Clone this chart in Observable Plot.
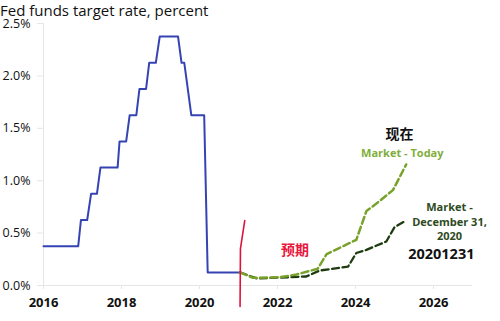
<!DOCTYPE html>
<html><head><meta charset="utf-8">
<script src="https://cdn.jsdelivr.net/npm/d3@7"></script>
<script src="https://cdn.jsdelivr.net/npm/@observablehq/plot@0.6"></script>
<style>
body{margin:0;background:#fff;}
#wrap{position:relative;width:500px;height:321px;overflow:hidden;}
#title{position:absolute;left:0px;top:0px;font-family:"Open Sans",sans-serif;font-size:15px;line-height:21px;color:#111;white-space:nowrap;}
</style></head>
<body><div id="wrap"><div id="title">Fed funds target rate, percent</div></div>
<script>
// Fed funds target rate (mid of range), percent
const fedYear = [2016.0, 2016.89, 2016.96, 2017.12, 2017.22, 2017.37, 2017.46, 2017.9, 2017.95, 2018.12, 2018.21, 2018.38, 2018.46, 2018.63, 2018.71, 2018.88, 2018.98, 2019.45, 2019.54, 2019.61, 2019.79, 2020.12, 2020.21, 2021.04];
const fedRate = [0.375, 0.375, 0.625, 0.625, 0.875, 0.875, 1.125, 1.125, 1.375, 1.375, 1.625, 1.625, 1.875, 1.875, 2.125, 2.125, 2.375, 2.375, 2.125, 2.125, 1.625, 1.625, 0.125, 0.125];
// Market - Today
const todayYear = [2021.04, 2021.37, 2022.06, 2022.49, 2023.03, 2023.26, 2024.02, 2024.28, 2024.53, 2024.96, 2025.30];
const todayRate = [0.125, 0.073, 0.079, 0.105, 0.16, 0.30, 0.436, 0.71, 0.78, 0.91, 1.155];
// Market - December 31, 2020
const decYear = [2021.04, 2021.47, 2022.74, 2023.08, 2023.81, 2024.02, 2024.28, 2024.79, 2025.0, 2025.30];
const decRate = [0.125, 0.067, 0.086, 0.143, 0.18, 0.31, 0.34, 0.42, 0.556, 0.62];
// red marker line
const redYear = [2021.04, 2021.05, 2021.16];
const redRate = [-0.2, 0.353, 0.62];
// tick labels
const xTicks = [2016, 2018, 2020, 2022, 2024, 2026];
const yTicks = [0, 0.5, 1.0, 1.5, 2.0, 2.5];
// annotations
const noteText = ["现在", "Market - Today", "Market -\nDecember 31,\n2020", "20201231", "预期"];
const noteYear = [2025.13, 2025.20, 2026.41, 2026.20, 2022.45];
const noteRate = [1.44, 1.262, 0.614, 0.293, 0.334];

const z = (xs, ys) => xs.map((x, i) => ({x, y: ys[i]}));
const fed = z(fedYear, fedRate), today = z(todayYear, todayRate), dec = z(decYear, decRate), red = z(redYear, redRate);
const notes = noteText.map((t, i) => ({t, x: noteYear[i], y: noteRate[i]}));

const plot = Plot.plot({
  width: 500, height: 321,
  marginLeft: 43, marginRight: 28, marginTop: 23, marginBottom: 36,
  style: {fontFamily: "Open Sans, sans-serif", background: "transparent", overflow: "visible"},
  x: {domain: [2016, 2027]},
  y: {domain: [0, 2.5]},
  marks: [
    Plot.ruleX([2016], {stroke: "#e4e6ea", strokeWidth: 1}),
    Plot.ruleY([0], {stroke: "#e4e6ea", strokeWidth: 1}),
    Plot.axisY({ticks: yTicks, tickFormat: d => d.toFixed(1) + "%", tickSize: 6, tickPadding: 7, stroke: "#e4e6ea", fontSize: 12.5, fill: "#111", label: null}),
    Plot.axisX({ticks: xTicks, tickFormat: d => String(d), tickSize: 4, tickPadding: 8, stroke: "#e4e6ea", fontSize: 13, fontWeight: 700, fill: "#111", label: null}),
    Plot.line(fed, {x: "x", y: "y", stroke: "#3544b2", strokeWidth: 2}),
    Plot.line(dec, {x: "x", y: "y", stroke: "#1f3b10", strokeWidth: 2.3, strokeDasharray: "7,3.5"}),
    Plot.line(today, {x: "x", y: "y", stroke: "#78a22a", strokeWidth: 2.5, strokeDasharray: "7,3.5"}),
    Plot.line(red, {x: "x", y: "y", stroke: "#e0123c", strokeWidth: 1.6}),
    Plot.text(notes.slice(0,1), {x: "x", y: "y", text: "t", fontFamily: "Noto Sans CJK SC", fontWeight: 700, fontSize: 14, fill: "#111"}),
    Plot.text(notes.slice(1,2), {x: "x", y: "y", text: "t", fontWeight: 700, fontSize: 11, fill: "#7fae3c"}),
    Plot.text(notes.slice(2,3), {x: "x", y: "y", text: "t", fontWeight: 700, fontSize: 11, fill: "#2d4a22", lineHeight: 1.3}),
    Plot.text(notes.slice(3,4), {x: "x", y: "y", text: "t", fontWeight: 700, fontSize: 14.5, fill: "#111", stroke: "#fff", strokeWidth: 3, paintOrder: "stroke"}),
    Plot.text(notes.slice(4,5), {x: "x", y: "y", text: "t", fontFamily: "Noto Sans CJK SC", fontWeight: 700, fontSize: 14, fill: "#e8173c", stroke: "#fff", strokeWidth: 3, paintOrder: "stroke"})
  ]
});
plot.style.position = "absolute"; plot.style.left = "0"; plot.style.top = "0";
const wrap = document.getElementById("wrap");
wrap.insertBefore(plot, wrap.firstChild);
</script></body></html>
